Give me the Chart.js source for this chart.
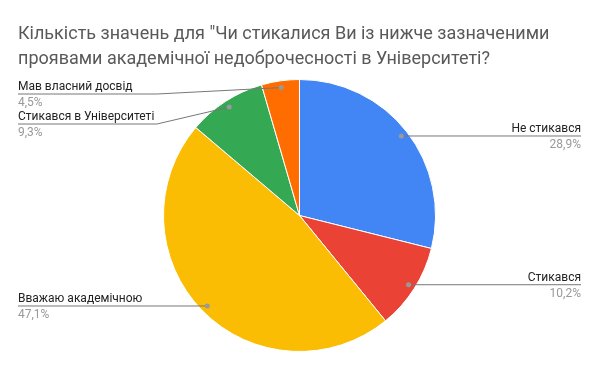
<!DOCTYPE html>
<html>
<head>
<meta charset="utf-8">
<script src="https://cdn.jsdelivr.net/npm/chart.js@4.4.1/dist/chart.umd.min.js"></script>
<style>
  html, body { margin: 0; padding: 0; background: #fff; }
  #wrap { width: 600px; height: 371px; position: relative; }
</style>
</head>
<body>
<div id="wrap"><canvas id="pie"></canvas></div>
<script>
const titleLines = ['Кількість значень для "Чи стикалися Ви із нижче зазначеними',
                    'проявами академічної недоброчесності в Університеті?'];
const labels = ['Не стикався', 'Стикався', 'Вважаю академічною', 'Стикався в Університеті', 'Мав власний досвід'];
const values = [28.9, 10.2, 47.1, 9.3, 4.5];
const colors = ['#4285F4', '#EA4335', '#FBBC04', '#34A853', '#FF6D01'];

// where each callout goes: side and y of the underline (null = same as dot)
const callouts = [
  { side: 'right', y: null },
  { side: 'right', y: null },
  { side: 'left', y: null },
  { side: 'left', y: 124 },
  { side: 'left', y: 94 }
];

const fmt = v => v.toFixed(1).replace('.', ',') + '%';

const calloutPlugin = {
  id: 'callouts',
  afterDraw(chart) {
    const ctx = chart.ctx;
    ctx.save();
    // title
    ctx.font = '18px Roboto';
    ctx.fillStyle = '#595959';
    ctx.textAlign = 'left';
    ctx.textBaseline = 'alphabetic';
    ctx.fillText(titleLines[0], 18, 39);
    ctx.fillText(titleLines[1], 18, 64);

    const arcs = chart.getDatasetMeta(0).data;
    arcs.forEach((arc, i) => {
      const p = arc.getProps(['x', 'y', 'startAngle', 'endAngle', 'outerRadius'], true);
      const mid = (p.startAngle + p.endAngle) / 2;
      const r = p.outerRadius * 0.95;
      const dx = p.x + Math.cos(mid) * r;
      const dy = p.y + Math.sin(mid) * r;
      const c = callouts[i];
      const ly = c.y == null ? dy : c.y;
      ctx.strokeStyle = '#777';
      ctx.lineWidth = 1;
      ctx.beginPath();
      if (c.side === 'right') {
        ctx.moveTo(dx, dy);
        ctx.lineTo(581, ly);
      } else {
        ctx.moveTo(18, ly);
        if (c.y != null) {
          ctx.lineTo(157, ly);
        }
        ctx.lineTo(dx, dy);
      }
      ctx.stroke();
      ctx.fillStyle = '#999';
      ctx.beginPath();
      ctx.arc(dx, dy, 2.5, 0, Math.PI * 2);
      ctx.fill();

      ctx.font = '12px Roboto';
      const tx = c.side === 'right' ? 581 : 18;
      ctx.textAlign = c.side === 'right' ? 'right' : 'left';
      ctx.fillStyle = '#222';
      ctx.fillText(labels[i], tx, ly - 4);
      ctx.fillStyle = '#999';
      ctx.fillText(fmt(values[i]), tx, ly + 12);
    });
    ctx.restore();
  }
};

new Chart(document.getElementById('pie'), {
  type: 'pie',
  data: {
    labels: labels,
    datasets: [{
      data: values,
      backgroundColor: colors,
      borderColor: '#fff',
      borderWidth: 1
    }]
  },
  options: {
    responsive: true,
    maintainAspectRatio: false,
    animation: false,
    layout: { padding: { top: 79, bottom: 19, left: 163, right: 164 } },
    plugins: {
      legend: { display: false },
      tooltip: { enabled: false }
    }
  },
  plugins: [calloutPlugin]
});
</script>
</body>
</html>
